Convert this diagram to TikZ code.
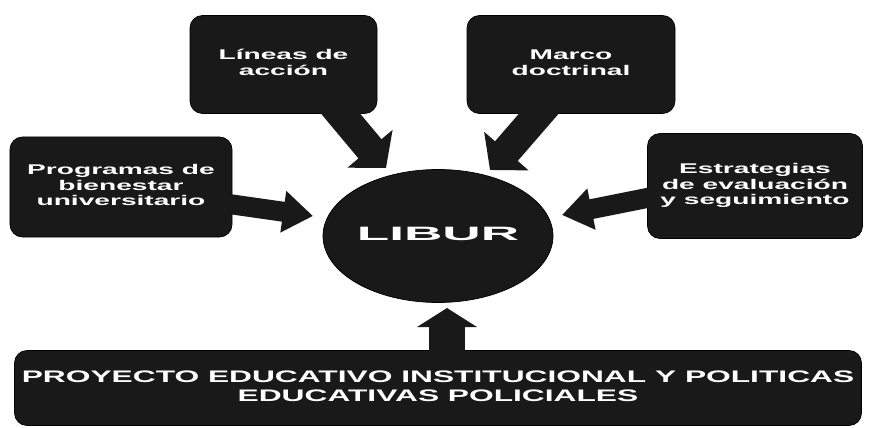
\documentclass[tikz,border=0pt]{standalone}
\usepackage{fontspec}
\setmainfont{Liberation Sans}
\usetikzlibrary{arrows.meta,shapes.geometric}
\definecolor{grain}{gray}{0.1}
\newcommand{\widetext}[2][2.0]{\scalebox{#1}[1]{\begin{tabular}{@{}c@{}}#2\end{tabular}}}
\begin{document}
\begin{tikzpicture}[
    box/.style={draw=black,fill=grain,rounded corners=0.25cm,text=white,inner sep=0,font=\bfseries\fontsize{8}{9}\selectfont},
    bigarrow/.style={grain,line width=0.6cm,-{Triangle[width=1.15cm,length=0.5cm]}},
    sidearrow/.style={grain,line width=0.4cm,-{Triangle[width=0.8cm,length=0.6cm]}}]
    \useasboundingbox (0,0) rectangle (17.38,8.54);
    \node[box,minimum width=3.74cm,minimum height=1.96cm] at (5.67,7.25) (lineas) {\widetext{Líneas de\\acción}};
    \node[box,minimum width=4.16cm,minimum height=1.96cm] at (11.42,7.25) (marco) {\widetext{Marco\\doctrinal}};
    \node[box,minimum width=4.44cm,minimum height=2.0cm] at (2.42,4.8) (programas) {\widetext{Programas de\\bienestar\\universitario}};
    \node[box,minimum width=4.3cm,minimum height=2.1cm] at (15.1,4.82) (estrategias) {\widetext{Estrategias\\de evaluación\\y seguimiento}};
    \node[box,ellipse,minimum width=4.6cm,minimum height=2.66cm,font=\bfseries\fontsize{11}{13}\selectfont] at (8.76,3.82) (libur) {\widetext[2.75]{LIBUR}};
    \node[box,minimum width=16.94cm,minimum height=1.5cm,font=\bfseries\fontsize{9.5}{11}\selectfont] at (8.76,0.78) (pei) {\widetext[1.9]{PROYECTO EDUCATIVO INSTITUCIONAL Y POLITICAS\\EDUCATIVAS POLICIALES}};
    \coordinate (a1) at (6.5,6.64);
    \coordinate (t1) at (7.72,5.18);
    \coordinate (a2) at (11.1,6.64);
    \coordinate (t2) at (9.8,5.14);
    \coordinate (a3) at (4.44,4.48);
    \coordinate (t3) at (6.26,4.22);
    \coordinate (a4) at (13.04,4.6);
    \coordinate (t4) at (11.24,4.24);
    \coordinate (a5) at (8.94,1.5);
    \coordinate (t5) at (8.94,2.38);
    \draw[bigarrow] (a1) -- (t1);
    \draw[bigarrow] (a2) -- (t2);
    \draw[sidearrow] (a3) -- (t3);
    \draw[sidearrow] (a4) -- (t4);
    \draw[grain,line width=0.72cm,-{Triangle[width=1.18cm,length=0.38cm]}] (a5) -- (t5);
\end{tikzpicture}
\end{document}
